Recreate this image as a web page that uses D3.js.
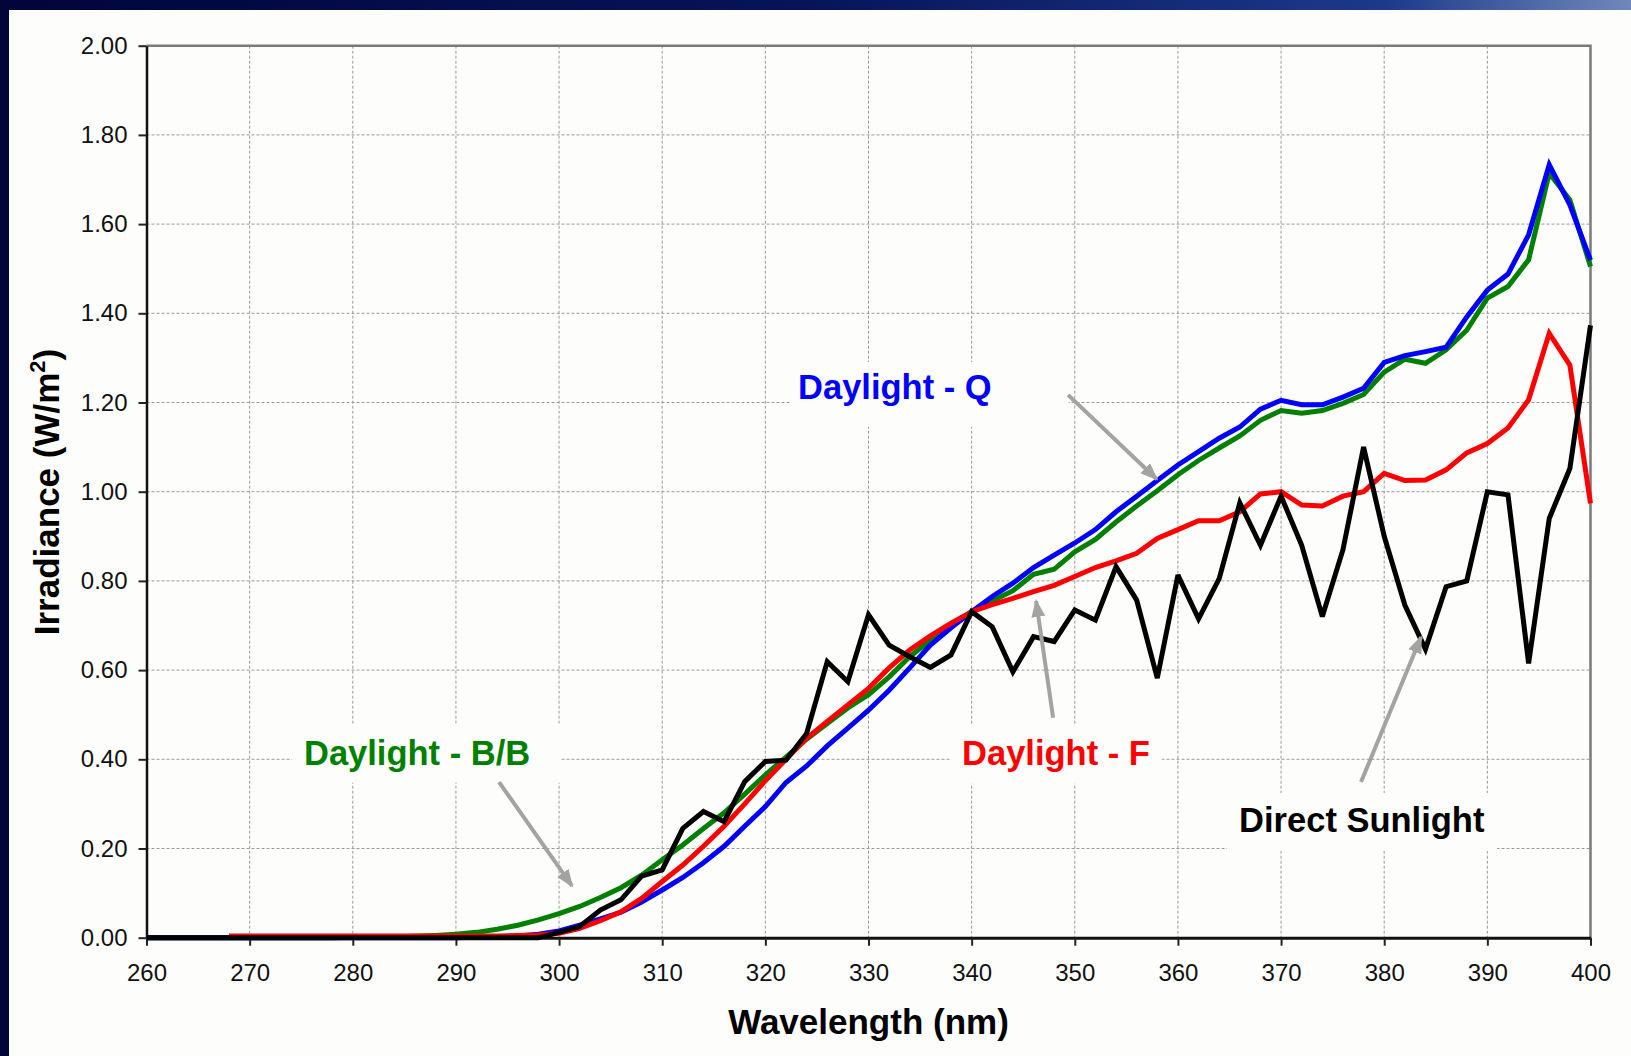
<!DOCTYPE html>
<html>
<head>
<meta charset="utf-8">
<script src="https://cdn.jsdelivr.net/npm/d3@7"></script>
<style>
  html, body { margin: 0; padding: 0; background: #fdfdfb; }
  svg { display: block; font-family: "Liberation Sans", Arial, sans-serif; }
</style>
</head>
<body>
<svg id="chart" width="1631" height="1056"></svg>
<script>
// Spectral irradiance, sampled every 2 nm from 260 to 400 nm (W/m²)
const wavelengths = d3.range(260, 401, 2);

const xTickValues = [260, 270, 280, 290, 300, 310, 320, 330, 340, 350, 360, 370, 380, 390, 400];
const yTickValues = [0, 0.2, 0.4, 0.6, 0.8, 1.0, 1.2, 1.4, 1.6, 1.8, 2.0];

const daylightQ = [
  0, 0, 0, 0, 0, 0, 0, 0, 0, 0,
  0, 0, 0, 0, 0, 0, 0.001, 0.002, 0.004, 0.008,
  0.015, 0.028, 0.042, 0.057, 0.080, 0.107, 0.135, 0.168, 0.205, 0.250,
  0.294, 0.348, 0.385, 0.430, 0.470, 0.510, 0.555, 0.605, 0.656, 0.695,
  0.731, 0.765, 0.795, 0.830, 0.858, 0.885, 0.915, 0.955, 0.990, 1.025,
  1.060, 1.090, 1.120, 1.145, 1.185, 1.205, 1.195, 1.195, 1.212, 1.232,
  1.290, 1.305, 1.314, 1.324, 1.392, 1.452, 1.488, 1.576, 1.733, 1.643,
  1.519
];

const daylightBB = [
  0, 0, 0, 0, 0, 0, 0, 0, 0, 0,
  0.001, 0.001, 0.002, 0.003, 0.005, 0.008, 0.012, 0.019, 0.028, 0.040,
  0.054, 0.070, 0.090, 0.112, 0.140, 0.175, 0.208, 0.245, 0.280, 0.322,
  0.365, 0.405, 0.445, 0.480, 0.515, 0.545, 0.585, 0.630, 0.667, 0.700,
  0.731, 0.755, 0.778, 0.815, 0.826, 0.865, 0.893, 0.932, 0.968, 1.002,
  1.038, 1.070, 1.098, 1.125, 1.160, 1.182, 1.176, 1.182, 1.198, 1.218,
  1.268, 1.297, 1.288, 1.318, 1.362, 1.434, 1.460, 1.520, 1.714, 1.654,
  1.505
];

const daylightF = [
  null, null, null, null, 0.004, 0.004, 0.004, 0.004, 0.004, 0.004,
  0.004, 0.004, 0.004, 0.004, 0.004, 0.004, 0.004, 0.004, 0.005, 0.006,
  0.010, 0.021, 0.038, 0.058, 0.088, 0.126, 0.163, 0.205, 0.250, 0.300,
  0.352, 0.400, 0.447, 0.485, 0.522, 0.559, 0.605, 0.645, 0.677, 0.705,
  0.731, 0.747, 0.761, 0.776, 0.790, 0.810, 0.830, 0.845, 0.862, 0.895,
  0.915, 0.935, 0.935, 0.955, 0.995, 1.000, 0.970, 0.968, 0.990, 1.000,
  1.041, 1.025, 1.026, 1.049, 1.087, 1.108, 1.143, 1.206, 1.355, 1.284,
  0.974
];

const directSunlight = [
  0, 0, 0, 0, 0, 0, 0, 0, 0, 0,
  0, 0, 0, 0, 0, 0, 0, 0, 0, 0,
  0.012, 0.025, 0.062, 0.085, 0.138, 0.152, 0.245, 0.283, 0.260, 0.350,
  0.395, 0.398, 0.458, 0.619, 0.574, 0.724, 0.656, 0.630, 0.606, 0.634,
  0.731, 0.697, 0.596, 0.675, 0.664, 0.735, 0.712, 0.832, 0.757, 0.582,
  0.813, 0.715, 0.805, 0.975, 0.880, 0.990, 0.880, 0.720, 0.870, 1.100,
  0.900, 0.746, 0.647, 0.787, 0.800, 1.000, 0.993, 0.615, 0.940, 1.052,
  1.373
];

const seriesNames = ["Daylight - B/B", "Daylight - Q", "Daylight - F", "Direct Sunlight"];
const seriesValues = [daylightBB, daylightQ, daylightF, directSunlight];
const seriesColors = ["#008000", "#0000ff", "#ff0000", "#000000"];

// Callout labels: text anchor and arrow ends are given in data units (nm, W/m²)
const notes = [
  { text: "Daylight - Q", color: "#0000ff", at: [323.17, 1.208], from: [349.35, 1.217], to: [357.95, 1.028], pad: [8, 77, 6, 21] },
  { text: "Daylight - B/B", color: "#008000", at: [275.27, 0.388], from: [294.18, 0.349], to: [301.25, 0.116], pad: [12, 31, 10, 11] },
  { text: "Daylight - F", color: "#ff0000", at: [339.07, 0.388], from: [347.9, 0.493], to: [346.25, 0.755], pad: [12, 12, 8, 12] },
  { text: "Direct Sunlight", color: "#000000", at: [365.93, 0.237], from: [377.75, 0.349], to: [383.57, 0.674], pad: [12, 12, 8, 12] }
];

const W = 1631, H = 1056;
const plot = { left: 146.5, right: 1590.5, top: 45.7, bottom: 937.7 };

const svg = d3.select("#chart");

// Slide backdrop: dark strip on the left, gradient bar across the top
const defs = svg.append("defs");
const grad = defs.append("linearGradient").attr("id", "topBar").attr("x1", "0").attr("x2", "1");
grad.append("stop").attr("offset", "0").attr("stop-color", "#02043a");
grad.append("stop").attr("offset", "0.5").attr("stop-color", "#07145a");
grad.append("stop").attr("offset", "0.85").attr("stop-color", "#1c3a8a");
grad.append("stop").attr("offset", "1").attr("stop-color", "#6f88bb");

defs.append("marker")
  .attr("id", "arrowHead")
  .attr("markerUnits", "userSpaceOnUse")
  .attr("viewBox", "0 0 18 14")
  .attr("markerWidth", 18).attr("markerHeight", 14)
  .attr("refX", 16).attr("refY", 7)
  .attr("orient", "auto")
  .append("path").attr("d", "M0,0 L18,7 L0,14 Z").attr("fill", "#a3a3a3");

svg.append("rect").attr("width", W).attr("height", H).attr("fill", "#fdfdfb");
svg.append("rect").attr("x", 0).attr("y", 0).attr("width", 9).attr("height", H).attr("fill", "#03053a");
svg.append("rect").attr("x", 0).attr("y", 0).attr("width", W).attr("height", 10).attr("fill", "url(#topBar)");

const x = d3.scaleLinear().domain([260, 400]).range([plot.left, plot.right]);
const y = d3.scaleLinear().domain([0, 2]).range([plot.bottom, plot.top]);

// Dashed grid
const grid = svg.append("g").attr("stroke", "#9a9a9a").attr("stroke-width", 1).attr("stroke-dasharray", "3,2");
grid.selectAll("line.v").data(xTickValues.filter(d => d > 260 && d < 400)).join("line")
  .attr("x1", d => x(d)).attr("x2", d => x(d))
  .attr("y1", plot.top).attr("y2", plot.bottom);
grid.selectAll("line.h").data(yTickValues.filter(d => d > 0 && d < 2)).join("line")
  .attr("x1", plot.left).attr("x2", plot.right)
  .attr("y1", d => y(d)).attr("y2", d => y(d));

// Plot frame (top and right)
svg.append("path")
  .attr("d", `M${plot.left},${plot.top} H${plot.right} V${plot.bottom}`)
  .attr("fill", "none").attr("stroke", "#7a7a7a").attr("stroke-width", 2.5);

// Axes
const yAxis = svg.append("g").attr("transform", `translate(${plot.left},0)`)
  .call(d3.axisLeft(y).tickValues(yTickValues).tickFormat(d3.format(".2f")).tickSize(8).tickSizeOuter(0).tickPadding(11));
const xAxis = svg.append("g").attr("transform", `translate(0,${plot.bottom})`)
  .call(d3.axisBottom(x).tickValues(xTickValues).tickFormat(d3.format("d")).tickSize(8).tickSizeOuter(0).tickPadding(18));

[yAxis, xAxis].forEach(g => {
  g.selectAll("text").attr("font-size", 24).attr("fill", "#111").attr("font-family", "\"Liberation Sans\", Arial, sans-serif");
  g.selectAll(".tick line").attr("stroke", "#222").attr("stroke-width", 2);
});
yAxis.select(".domain").attr("stroke", "#111").attr("stroke-width", 2.5);
xAxis.select(".domain").attr("stroke", "#111").attr("stroke-width", 3);

// Axis titles
svg.append("text")
  .attr("x", (plot.left + plot.right) / 2).attr("y", 1034)
  .attr("text-anchor", "middle").attr("font-size", 35).attr("font-weight", "bold").attr("fill", "#000")
  .text("Wavelength (nm)");

const yTitle = svg.append("text")
  .attr("transform", "translate(59,492) rotate(-90)")
  .attr("text-anchor", "middle").attr("font-size", 35).attr("font-weight", "bold").attr("fill", "#000");
yTitle.append("tspan").text("Irradiance (W/m");
yTitle.append("tspan").attr("font-size", 22).attr("dy", -14).text("2");
yTitle.append("tspan").attr("dy", 14).text(")");

// Callout label boxes
const noteG = svg.append("g");
notes.forEach(n => {
  const t = noteG.append("text")
    .attr("x", x(n.at[0])).attr("y", y(n.at[1]))
    .attr("font-size", 34.5).attr("font-weight", "bold").attr("fill", n.color)
    .text(n.text);
  const b = t.node().getBBox();
  noteG.insert("rect", () => t.node())
    .attr("x", b.x - n.pad[0]).attr("y", b.y - n.pad[2])
    .attr("width", b.width + n.pad[0] + n.pad[1]).attr("height", b.height + n.pad[2] + n.pad[3])
    .attr("fill", "#fdfdfb");
});

// Series
const line = d3.line()
  .defined(d => d[1] !== null)
  .x(d => x(d[0]))
  .y(d => y(d[1]));

svg.append("g").selectAll("path").data(seriesValues).join("path")
  .attr("d", vals => line(wavelengths.map((w, i) => [w, vals[i]])))
  .attr("fill", "none")
  .attr("stroke", (d, i) => seriesColors[i])
  .attr("stroke-width", 5)
  .attr("stroke-linejoin", "miter")
  .attr("stroke-miterlimit", 3)
  .attr("class", (d, i) => "series s" + i)
  .append("title").text((d, i) => seriesNames[i]);

// Callout arrows
svg.append("g").selectAll("line").data(notes).join("line")
  .attr("x1", n => x(n.from[0])).attr("y1", n => y(n.from[1]))
  .attr("x2", n => x(n.to[0])).attr("y2", n => y(n.to[1]))
  .attr("stroke", "#a3a3a3").attr("stroke-width", 4)
  .attr("marker-end", "url(#arrowHead)");
</script>
</body>
</html>
